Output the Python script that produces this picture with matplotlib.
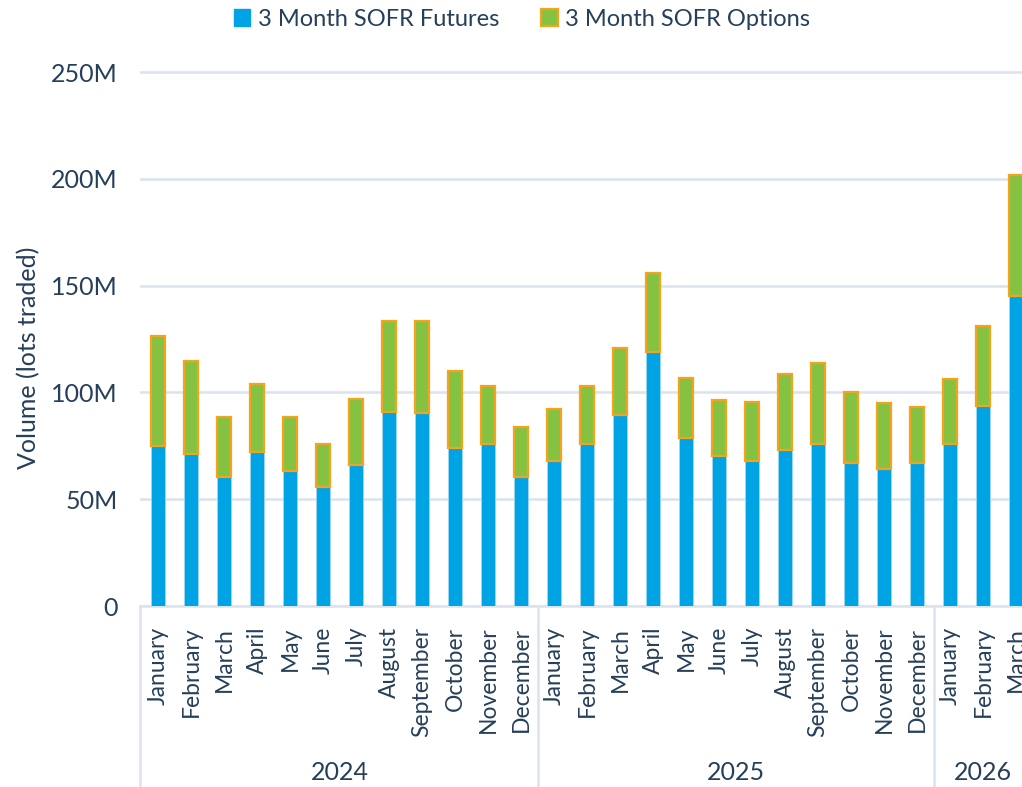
import numpy as np
import matplotlib
matplotlib.use("Agg")
from matplotlib import pyplot as plt
from matplotlib.patches import Patch
from matplotlib.transforms import blended_transform_factory

# monthly volume, millions of lots
months = ["January", "February", "March", "April", "May", "June", "July",
          "August", "September", "October", "November", "December"]
years = ["2024", "2025", "2026"]
labels = months + months + months[:3]

futures = [74.9, 71.2, 60.5, 72.1, 63.2, 55.9, 66.0, 91.0, 90.2, 74.1, 75.7, 60.5,
           67.7, 75.8, 89.3, 118.8, 78.5, 70.4, 67.7, 73.0, 75.8, 66.8, 64.3, 66.8,
           75.7, 93.6, 145.1]
totals = [126.5, 114.8, 88.6, 103.9, 88.6, 76.0, 96.8, 133.6, 133.6, 110.2, 103.0, 83.9,
          92.2, 102.9, 120.9, 156.0, 106.6, 96.6, 95.7, 108.5, 113.8, 100.2, 94.9, 93.0,
          106.4, 130.9, 201.8]
options = [t - f for t, f in zip(totals, futures)]

text_col = "#263f5a"
grid_col = "#dbe3ec"
blue = "#00a3e4"
green = "#86c242"
orange = "#f5a31c"

plt.rcParams["font.family"] = ["Lato", "DejaVu Sans"]

W, H = 1022, 787
fig = plt.figure(figsize=(W / 100, H / 100), dpi=100)
px = 2.136  # pixels per million
y0 = 606
ytop = 252
ax = fig.add_axes([140 / W, 1 - y0 / H, 1 - 140 / W, (ytop * px) / H])

x = np.arange(len(labels))
ax.bar(x, futures, width=0.45, color=blue, edgecolor="#9fd8f2", linewidth=0.6, zorder=3)
ax.bar(x, options, bottom=futures, width=0.45, color=green, edgecolor=orange,
       linewidth=1.6, zorder=3)

ax.set_xlim(-0.545, 26.18)
ax.set_ylim(0, ytop)
ax.set_yticks(np.arange(0, 251, 50))
ax.set_yticklabels(["0" if v == 0 else f"{v}M" for v in range(0, 251, 50)],
                   fontsize=18, color=text_col)
ax.grid(axis="y", color=grid_col, linewidth=1.8, zorder=0)
for s in ["top", "right", "left"]:
    ax.spines[s].set_visible(False)
ax.spines["bottom"].set_color(grid_col)
ax.spines["bottom"].set_linewidth(1.8)
ax.tick_params(axis="y", length=0, pad=16)
ax.set_ylabel("Volume (lots traded)", fontsize=18, color=text_col)
ax.yaxis.set_label_coords(-0.113, 0.462)

ax.set_xticks(x)
ax.set_xticklabels(labels, rotation=90, fontsize=16.5, color=text_col, va="top")
ax.tick_params(axis="x", length=0, pad=15)

# group separators and year labels
trans = blended_transform_factory(ax.transData, fig.transFigure)
for sx in [-0.545, 11.5, 23.5]:
    ax.plot([sx, sx], [1 - y0 / H, 0], transform=trans, color=grid_col,
            linewidth=1.8, clip_on=False)
for yr, cx in zip(years, [5.5, 17.5, 25.0]):
    ax.text(cx, 1 - 773 / H, yr, transform=trans, ha="center", va="center",
            fontsize=18, color=text_col)

handles = [Patch(facecolor=blue, edgecolor=blue, label="3 Month SOFR Futures"),
           Patch(facecolor=green, edgecolor=orange, linewidth=1.6,
                 label="3 Month SOFR Options")]
fig.legend(handles=handles, loc="center", bbox_to_anchor=(522 / W, 1 - 19 / H),
           ncol=2, frameon=False, fontsize=17, labelcolor=text_col,
           handlelength=0.7, handleheight=0.7, handletextpad=0.3,
           columnspacing=1.8)

fig.savefig("out.png", dpi=100)
